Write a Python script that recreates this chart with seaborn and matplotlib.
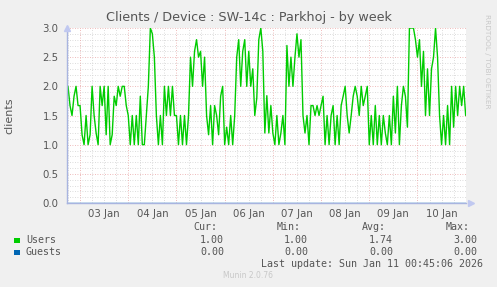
import matplotlib
matplotlib.use("Agg")
import numpy as np
import pandas as pd
import matplotlib.pyplot as plt
import matplotlib.dates as mdates
from matplotlib.patches import Rectangle
import seaborn as sns

# ---------------- data (hourly) ----------------
start_time = "2026-01-02 18:00"
users_jan02 = [2.0, 1.67, 1.5, 1.83, 2.0, 1.67]
users_jan03 = [1.67, 1.17, 1.0, 1.5, 1.0, 1.17, 2.0, 1.5, 1.2, 1.0, 2.0, 1.67,
               2.0, 1.17, 2.0, 1.0, 1.17, 1.83, 1.67, 2.0, 1.83, 2.0, 2.0, 1.67]
users_jan04 = [1.5, 1.0, 1.5, 1.0, 1.5, 1.0, 1.83, 1.0, 1.0, 1.5, 2.0, 3.0,
               2.9, 2.5, 1.5, 1.0, 1.5, 1.0, 2.0, 1.5, 2.0, 1.5, 2.0, 1.5]
users_jan05 = [1.5, 1.0, 1.5, 1.0, 1.5, 1.0, 1.5, 2.5, 2.0, 2.6, 2.8, 2.5,
               2.6, 2.0, 2.5, 1.5, 1.17, 1.67, 1.0, 1.67, 1.5, 1.17, 1.83, 2.0]
users_jan06 = [1.0, 1.3, 1.0, 1.5, 1.0, 1.5, 2.5, 2.8, 2.0, 2.6, 2.8, 2.0,
               2.6, 2.0, 2.3, 1.5, 1.8, 2.8, 3.0, 2.6, 1.2, 1.84, 1.2, 1.67]
users_jan07 = [1.2, 1.0, 1.5, 1.0, 1.2, 1.5, 1.0, 2.7, 2.0, 2.5, 2.0, 2.5,
               2.9, 2.5, 2.8, 1.5, 1.2, 1.5, 1.0, 1.67, 1.67, 1.5, 1.67, 1.5]
users_jan08 = [1.67, 1.83, 1.0, 1.5, 1.0, 1.5, 1.67, 1.0, 1.5, 1.0, 1.67, 1.83,
               2.0, 1.5, 1.2, 1.5, 1.83, 2.0, 1.83, 1.5, 2.0, 1.67, 1.83, 2.0]
users_jan09 = [1.0, 1.5, 1.0, 1.67, 1.0, 1.5, 1.0, 1.5, 1.2, 1.0, 1.5, 1.0,
               1.83, 1.2, 2.0, 1.0, 1.67, 2.0, 1.83, 1.3, 3.0, 3.0, 3.0, 2.8]
users_jan10 = [2.5, 2.8, 2.0, 2.6, 1.5, 2.3, 1.5, 2.3, 2.5, 3.0, 2.5, 1.5,
               1.0, 1.5, 1.0, 1.67, 1.0, 2.0, 1.3, 2.0, 1.5, 2.0, 1.67, 2.0]
users_jan11 = [1.5]

legend_labels = ["Users", "Guests"]
users_stats = ["1.00", "1.00", "1.74", "3.00"]
guests_stats = ["0.00", "0.00", "0.00", "0.00"]
stat_headers = ["Cur:", "Min:", "Avg:", "Max:"]
day_labels = ["03 Jan", "04 Jan", "05 Jan", "06 Jan", "07 Jan", "08 Jan", "09 Jan", "10 Jan"]
title = "Clients / Device : SW-14c : Parkhoj - by week"
last_update = "Last update: Sun Jan 11 00:45:06 2026"

users = (users_jan02 + users_jan03 + users_jan04 + users_jan05 + users_jan06 +
         users_jan07 + users_jan08 + users_jan09 + users_jan10 + users_jan11)
guests = [0.0] * len(users)
times = pd.date_range(start_time, periods=len(users), freq="h")
df = pd.DataFrame({"time": times, "Users": users, "Guests": guests})

# ---------------- style ----------------
BG = "#F0F0F0"
TXT = "#555555"
GREEN = "#00CC00"
BLUE = "#0066B3"
sns.set_style("white")
plt.rcParams["font.family"] = ["DejaVu Sans"]

fig = plt.figure(figsize=(4.97, 2.87), dpi=100, facecolor=BG)
ax = fig.add_axes([67 / 497, 1 - 203 / 287, 399 / 497, 175 / 287])
ax.set_facecolor("white")

x0 = pd.Timestamp("2026-01-02 17:30")
x1 = pd.Timestamp("2026-01-11 00:10")

# grid
dot = (0, (1, 2))
for t in pd.date_range("2026-01-02 18:00", "2026-01-11 00:00", freq="6h"):
    if t.hour != 0:
        ax.axvline(t, color="#D0D0D0", lw=0.6, ls=dot, zorder=0)
for v in np.arange(0.1, 3.0, 0.1):
    if abs(v * 2 - round(v * 2)) > 1e-6:
        ax.axhline(v, color="#D0D0D0", lw=0.6, ls=dot, zorder=0)
for t in pd.date_range("2026-01-03", "2026-01-11", freq="D"):
    ax.axvline(t, color="#E9A5A5", lw=0.6, ls=dot, zorder=0.5)
for v in [0.5, 1.0, 1.5, 2.0, 2.5, 3.0]:
    ax.axhline(v, color="#E9A5A5", lw=0.6, ls=dot, zorder=0.5)

sns.lineplot(data=df, x="time", y="Guests", color=BLUE, lw=1.0, ax=ax, zorder=2)
sns.lineplot(data=df, x="time", y="Users", color=GREEN, lw=1.0, ax=ax, zorder=3)

ax.set_xlim(x0, x1)
ax.set_ylim(0, 3.0)
ax.set_xlabel("")
ax.set_ylabel("clients", color=TXT, fontsize=8, labelpad=20)

noon_ticks = pd.date_range("2026-01-03 12:00", periods=len(day_labels), freq="D")
ax.set_xticks(noon_ticks)
ax.set_xticklabels(day_labels)
ax.set_yticks([0.0, 0.5, 1.0, 1.5, 2.0, 2.5, 3.0])
ax.set_yticklabels(["0.0", "0.5", "1.0", "1.5", "2.0", "2.5", "3.0"])
ax.tick_params(axis="both", length=0, colors=TXT, labelsize=7.3)
ax.tick_params(axis="x", pad=4)
ax.tick_params(axis="y", pad=6)

for s in ["top", "right"]:
    ax.spines[s].set_visible(False)
for s in ["left", "bottom"]:
    ax.spines[s].set_color("#A8B4E0")
    ax.spines[s].set_linewidth(1.0)
    ax.spines[s].set_zorder(5)
# axis arrows
ax.plot([1.012], [0], marker=">", ms=4, color="#C0C8F0", transform=ax.transAxes,
        clip_on=False, zorder=6)
ax.plot([0], [1.0], marker="^", ms=4, color="#C0C8F0", transform=ax.transAxes,
        clip_on=False, zorder=6)

# title & side text
fig.text(0.5, 1 - 17 / 287, title, ha="center", va="center", fontsize=9.2, color=TXT)
fig.text(487 / 497, 1 - 14 / 287, "RRDTOOL / TOBI OETIKER", rotation=270, ha="center",
         va="top", fontsize=5.3, color="#C8C8C8")

# legend block (monospace)
mono = "DejaVu Sans Mono"
FS = 7.2
def fy(py):
    return 1 - py / 287

hdr_x = [217, 301, 386, 470]
val_x = [224, 308, 393, 477]
for h, xx in zip(stat_headers, hdr_x):
    fig.text(xx / 497, fy(227), h, ha="right", va="center", family=mono, fontsize=FS, color=TXT)
for row, (lab, col, stats, py) in enumerate(zip(legend_labels, [GREEN, BLUE],
                                               [users_stats, guests_stats], [240, 252])):
    fig.patches.append(Rectangle((14 / 497, fy(py + 3)), 5.5 / 497, 5.5 / 287,
                                 transform=fig.transFigure, facecolor=col, edgecolor="none"))
    fig.text(26 / 497, fy(py), lab, ha="left", va="center", family=mono, fontsize=FS, color=TXT)
    for s, xx in zip(stats, val_x):
        fig.text(xx / 497, fy(py), s, ha="right", va="center", family=mono, fontsize=FS, color=TXT)
fig.text(483 / 497, fy(264), last_update, ha="right", va="center", family=mono,
         fontsize=FS, color=TXT)
fig.text(248 / 497, fy(276), "Munin 2.0.76", ha="center", va="center", fontsize=5.5,
         color="#C8C8C8")

fig.savefig("out.png", dpi=100, facecolor=BG)
